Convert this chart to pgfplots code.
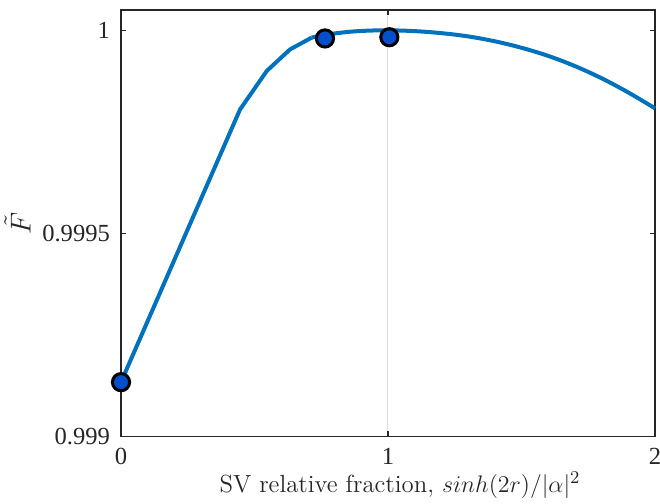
\documentclass[border=0pt]{standalone}
\usepackage{pgfplots}
\pgfplotsset{compat=1.18}
\usepackage{fontspec}
\newfontfamily\timesf{Liberation Serif}
\definecolor{lineblue}{RGB}{0,114,189}
\definecolor{markblue}{RGB}{0,80,205}
\definecolor{axgray}{RGB}{38,38,38}
\begin{document}
\begin{tikzpicture}
\begin{axis}[
  scale only axis,
  width=267pt, height=213.3pt,
  xmin=0, xmax=2, ymin=0.999, ymax=1.00005,
  xtick={0,1,2}, xticklabels={0,1,2},
  ytick={0.999,0.9995,1}, yticklabels={0.999,0.9995,1},
  tick align=inside, tickwidth=2.7pt,
  axis line style={axgray, line width=0.6pt},
  every tick/.style={axgray, line width=0.6pt},
  xmajorgrids, grid style={gray!25, line width=0.5pt},
  tick label style={font=\timesf\fontsize{12.3}{14}\selectfont, text=axgray},
  xticklabel style={yshift=-2.4pt},
  yticklabel style={xshift=-2pt},
  /pgf/number format/assume math mode=true,
  xlabel={SV relative fraction, $sinh(2r)/|\alpha|^2$},
  ylabel={$\tilde{F}$},
  label style={text=axgray},
  xlabel style={font=\fontsize{12.4}{14}\selectfont, yshift=3.5pt, xshift=6pt},
  ylabel style={font=\fontsize{13.5}{15}\selectfont, yshift=-1pt},
  clip=false,
]
\addplot[lineblue, line width=2pt, line join=round] coordinates {
(0,0.999134) (0.4457,0.999805) (0.546,0.999900) (0.633,0.999953) (0.714,0.999982)
};
\addplot[lineblue, line width=2pt, line join=round, smooth, tension=0.6] coordinates {
(0.714,0.999982) (0.764,0.999989) (0.85,0.999996) (0.92,0.999999) (1.0,1.000000)
(1.1,0.999998) (1.2,0.999993) (1.3,0.999985) (1.4,0.999973) (1.5,0.999957)
(1.6,0.999937) (1.7,0.999912) (1.8,0.999882) (1.9,0.999847) (2.0,0.999808)
};
\addplot[only marks, mark=*, mark size=4.3pt, mark options={fill=markblue, draw=black, line width=1.5pt}] coordinates {
(0,0.999134) (0.764,0.999980) (1.005,0.999983)
};
\coordinate (bbsw) at (rel axis cs:0,0);
\coordinate (bbne) at (rel axis cs:1,1);
\end{axis}
\pgfresetboundingbox
\path ([xshift=-60.5pt,yshift=-33.65pt]bbsw) rectangle ([xshift=2.5pt,yshift=5pt]bbne);
\end{tikzpicture}
\end{document}
